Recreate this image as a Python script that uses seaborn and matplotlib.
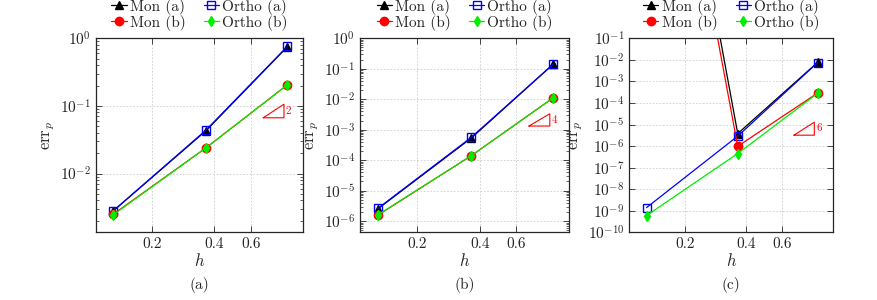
import numpy as np
import pandas as pd
import matplotlib
matplotlib.use("Agg")
import matplotlib.pyplot as plt
import seaborn as sns
from matplotlib.ticker import LogLocator, NullLocator, FixedLocator, FixedFormatter

# mesh sizes (shared by all three panels)
h = [0.129, 0.364, 0.904]

# panel (a)
a_mon_a = [2.8e-3, 0.043, 0.75]
a_ortho_a = [2.8e-3, 0.044, 0.76]
a_mon_b = [2.5e-3, 0.024, 0.205]
a_ortho_b = [2.45e-3, 0.024, 0.205]

# panel (b)
b_mon_a = [2.5e-6, 5.3e-4, 0.142]
b_ortho_a = [2.6e-6, 5.6e-4, 0.142]
b_mon_b = [1.55e-6, 1.4e-4, 0.0112]
b_ortho_b = [1.6e-6, 1.4e-4, 0.0112]

# panel (c) -- monomial basis blows up on the coarsest mesh
c_mon_a = [4e17, 3.8e-6, 7.7e-3]
c_ortho_a = [1.4e-9, 2.9e-6, 7.5e-3]
c_mon_b = [5e16, 9.8e-7, 2.9e-4]
c_ortho_b = [6e-10, 4.5e-7, 2.8e-4]

slopes = [2, 4, 6]
captions = ["(a)", "(b)", "(c)"]
ylims = [(1.35e-3, 1.0), (4.3e-7, 1.0), (1e-10, 1e-1)]
tri_y = [0.0667, 1.32e-3, 3.2e-6]

panels = [
    (a_mon_a, a_ortho_a, a_mon_b, a_ortho_b),
    (b_mon_a, b_ortho_a, b_mon_b, b_ortho_b),
    (c_mon_a, c_ortho_a, c_mon_b, c_ortho_b),
]

sns.set_style("ticks")
plt.rcParams["font.family"] = "serif"
plt.rcParams["font.serif"] = ["cmr10", "DejaVu Serif"]
plt.rcParams["mathtext.fontset"] = "cm"
plt.rcParams["axes.formatter.use_mathtext"] = True
plt.rcParams["axes.unicode_minus"] = False

fig = plt.figure(figsize=(8.78, 3.0), dpi=100)
W, H = 878, 300
boxes = [(95.7, 303.3), (360.0, 569.3), (629.3, 833.3)]
top_px, bot_px = 38.3, 232.3

styles = [
    dict(label="Mon (a)", color="black", marker="^", ms=5.5, mfc="black", mec="black"),
    dict(label="Ortho (a)", color="#0000ff", marker="s", ms=6, mfc="none", mec="#0000ff"),
    dict(label="Mon (b)", color="#ff0000", marker="o", ms=6, mfc="#ff0000", mec="#ff0000"),
    dict(label="Ortho (b)", color="#00ee00", marker="d", ms=5, mfc="#00ee00", mec="#00ee00"),
]

for i, (series, (x0, x1)) in enumerate(zip(panels, boxes)):
    ax = fig.add_axes([x0 / W, 1 - bot_px / H, (x1 - x0) / W, (bot_px - top_px) / H])
    for vals, st in zip(series, styles):
        df = pd.DataFrame({"h": h, "err": vals})
        sns.lineplot(data=df, x="h", y="err", ax=ax, color=st["color"],
                     marker=st["marker"], markersize=st["ms"],
                     markerfacecolor=st["mfc"], markeredgecolor=st["mec"],
                     markeredgewidth=1.0, linewidth=0.9, label=st["label"],
                     legend=False)
    ax.set_xscale("log")
    ax.set_yscale("log")
    ax.set_xlim(0.106, 1.08)
    ax.set_ylim(*ylims[i])

    ax.xaxis.set_major_locator(FixedLocator([0.2, 0.4, 0.6]))
    ax.xaxis.set_major_formatter(FixedFormatter(["0.2", "0.4", "0.6"]))
    ax.xaxis.set_minor_locator(NullLocator())
    ax.yaxis.set_major_locator(LogLocator(base=10, numticks=30))
    if i < 2:
        ax.yaxis.set_minor_locator(LogLocator(base=10, subs=np.arange(2, 10), numticks=100))
    else:
        ax.yaxis.set_minor_locator(NullLocator())
    ax.tick_params(which="both", direction="in", top=True, right=True, labelsize=11)
    ax.tick_params(which="major", length=4, width=0.6)
    ax.tick_params(which="minor", length=2, width=0.5)
    ax.grid(True, which="major", linestyle=(0, (2, 2)), color="#cccccc", linewidth=0.6)
    for sp in ax.spines.values():
        sp.set_linewidth(0.9)

    ax.set_xlabel("$h$", fontsize=12, labelpad=1)
    ax.set_ylabel(r"$\mathrm{err}_p$", fontsize=12, labelpad=2)

    # slope triangle
    tx0, tx1 = 0.69, 0.87
    ty0 = tri_y[i]
    ty1 = ty0 * (tx1 / tx0) ** slopes[i]
    ax.plot([tx0, tx1, tx1, tx0], [ty0, ty0, ty1, ty0], color="#ff0000", linewidth=0.8)
    ax.text(tx1 * 1.02, np.sqrt(ty0 * ty1), str(slopes[i]), color="#ff0000",
            fontsize=8, va="center", ha="left")

    hs, ls = ax.get_legend_handles_labels()
    order = [0, 2, 1, 3]
    ax.legend([hs[k] for k in order], [ls[k] for k in order], ncol=2,
              loc="lower center", bbox_to_anchor=(0.5, 1.0), frameon=False,
              fontsize=11, handlelength=1.0, handletextpad=0.2,
              columnspacing=1.2, labelspacing=0.0, borderaxespad=0.1)

    fig.text((x0 + x1) / 2 / W, 1 - 285 / H, captions[i], ha="center", va="center",
             fontsize=11)

fig.savefig("out.png", dpi=100)
